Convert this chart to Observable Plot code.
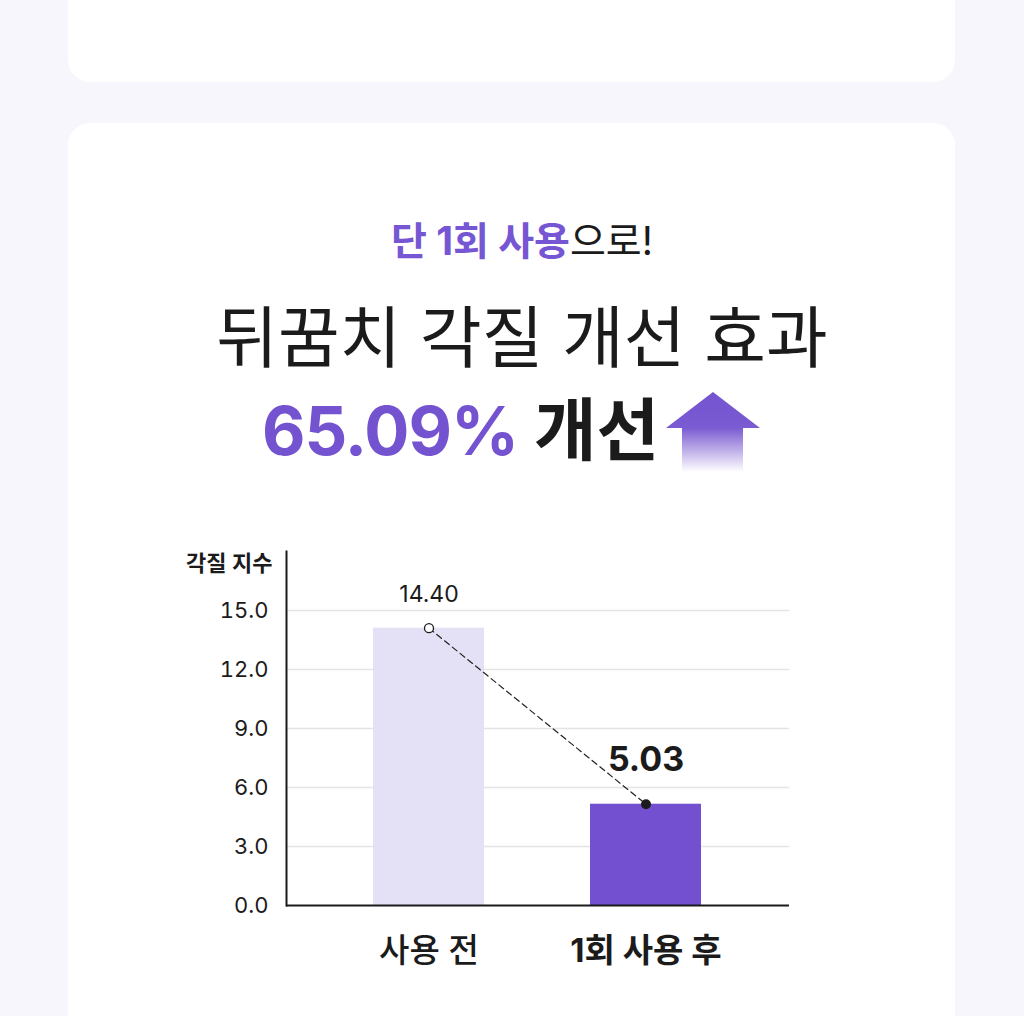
<!DOCTYPE html>
<html><head><meta charset="utf-8">
<script src="https://cdn.jsdelivr.net/npm/d3@7"></script>
<script src="https://cdn.jsdelivr.net/npm/@observablehq/plot@0.6"></script>
<style>
html,body{margin:0;padding:0;}
body{width:1024px;height:1016px;background:#f7f6fc;position:relative;overflow:hidden;font-family:Inter,"Noto Sans CJK KR",sans-serif;color:#1b1b1b;}
.card{position:absolute;left:68px;width:887px;background:#fff;border-radius:22px;}
.line{position:absolute;left:10px;width:1024px;text-align:center;line-height:1;white-space:nowrap;}
#eyebrow{top:221px;font-size:39px;font-weight:400;}
#eyebrow b{color:#7656d3;font-weight:700;}
#title{top:304px;font-size:67px;font-weight:400;}
#big{position:absolute;left:262px;top:396px;font-size:68px;font-weight:700;line-height:1;white-space:nowrap;}
#big .pct{color:#7453d0;font-size:67px;letter-spacing:-1px;}
#arrow{position:absolute;left:666px;top:392px;}
#chart{position:absolute;left:68px;top:520px;}
</style></head>
<body>
<div class="card" style="top:-40px;height:122px;"></div>
<div class="card" style="top:123px;height:960px;"></div>
<div class="line" id="eyebrow"></div>
<div class="line" id="title"></div>
<div id="big"></div>
<svg id="arrow" width="96" height="80" viewBox="0 0 96 80">
  <defs><linearGradient id="g" x1="0" y1="0" x2="0" y2="1">
    <stop offset="0" stop-color="#7453d0" stop-opacity="1"/>
    <stop offset="0.45" stop-color="#7453d0" stop-opacity="0.95"/>
    <stop offset="1" stop-color="#7453d0" stop-opacity="0"/>
  </linearGradient></defs>
  <path d="M47 0 L94 36 L77 36 L77 80 L16 80 L16 36 L0 36 Z" fill="url(#g)"/>
</svg>
<div id="chart"></div>
<script>
// ---- data ----
const eyebrowAccent = "단 1회 사용";
const eyebrowRest = "으로!";
const titleText = "뒤꿈치 각질 개선 효과";
const improvementPct = "65.09%";
const improvementWord = "개선";
const categories = ["사용 전", "1회 사용 후"];
const barValues = [14.1, 5.15];          // bar heights as drawn
const valueLabels = ["14.40", "5.03"];   // printed values
const barColors = ["#e4e0f5", "#7350cf"];
const yTicks = [0, 3, 6, 9, 12, 15];
const yTitle = "각질 지수";

document.getElementById("eyebrow").innerHTML = `<b>${eyebrowAccent}</b>${eyebrowRest}`;
document.getElementById("title").textContent = titleText;
document.getElementById("big").innerHTML = `<span class="pct">${improvementPct}</span> <span class="word">${improvementWord}</span>`;

const data = categories.map((c, i) => ({cat: c, value: barValues[i], label: valueLabels[i]}));

const chart = Plot.plot({
  width: 887,
  height: 480,
  marginLeft: 218,
  marginRight: 166,
  marginTop: 31,
  marginBottom: 95,
  style: {fontFamily: 'Inter, "Noto Sans CJK KR", sans-serif', color: "#1b1b1b", background: "transparent"},
  x: {domain: categories, paddingInner: 0.487, paddingOuter: 0.4},
  y: {domain: [0, 18]},
  color: {domain: categories, range: barColors},
  marks: [
    Plot.gridY(yTicks.filter(d => d > 0), {stroke: "#e4e4e6", strokeOpacity: 1, strokeWidth: 1.5}),
    Plot.barY(data, {x: "cat", y: "value", fill: "cat"}),
    Plot.ruleY([0], {stroke: "#1b1b1b", strokeWidth: 2}),
    Plot.frame({anchor: "left", stroke: "#1b1b1b", strokeWidth: 2}),
    Plot.line(data, {x: "cat", y: "value", stroke: "#222", strokeWidth: 1.2, strokeDasharray: "6,4"}),
    Plot.dot(data, {filter: d => d.cat === categories[0], x: "cat", y: "value", r: 4.5, fill: "#fff", stroke: "#1b1b1b", strokeWidth: 1.3}),
    Plot.dot(data, {filter: d => d.cat === categories[1], x: "cat", y: "value", r: 5, fill: "#1b1b1b"}),
    Plot.text(data, {filter: d => d.cat === categories[0], x: "cat", y: "value", text: "label", dy: -34, fontSize: 23, fontWeight: 400, fill: "#1b1b1b"}),
    Plot.text(data, {filter: d => d.cat === categories[1], x: "cat", y: "value", text: "label", dy: -44, fontSize: 34, fontWeight: 700, fill: "#1b1b1b"}),
    Plot.axisY({ticks: yTicks, tickFormat: d3.format(".1f"), tickSize: 0, tickPadding: 18, fontSize: 22, fill: "#1b1b1b", label: null}),
    Plot.axisX({ticks: [categories[0]], tickSize: 0, tickPadding: 33, fontSize: 33, fontWeight: 500, fill: "#1b1b1b", label: null}),
    Plot.axisX({ticks: [categories[1]], tickSize: 0, tickPadding: 33, fontSize: 33, fontWeight: 700, fill: "#1b1b1b", label: null}),
    Plot.text([yTitle], {frameAnchor: "top-left", lineAnchor: "middle", textAnchor: "end", dx: -14, dy: 12, fontSize: 22, fontWeight: 600, fill: "#1b1b1b"})
  ]
});
document.getElementById("chart").appendChild(chart);
</script>
</body></html>
